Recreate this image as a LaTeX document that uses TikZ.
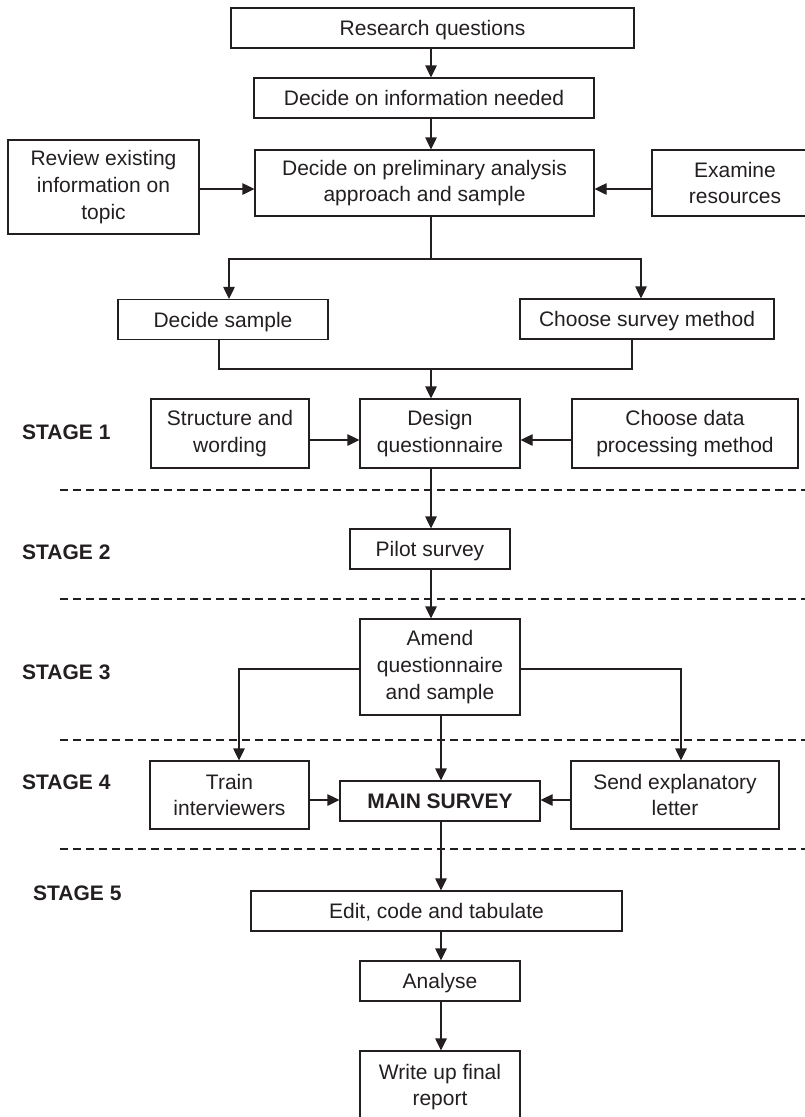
\documentclass[tikz,border=0pt]{standalone}
\usepackage{fontspec}
\setmainfont{Liberation Sans}
\usetikzlibrary{arrows.meta}
\definecolor{ink}{RGB}{35,31,32}
\tikzset{
  box/.style={draw=ink, line width=1.2pt, rectangle, inner sep=0pt, align=center,
              text=ink, font=\fontsize{21}{26.7}\selectfont},
  oneline/.style={text height=15pt, text depth=0pt},
  arr/.style={draw=ink, line width=1.2pt, -{Triangle[length=12pt,width=11.5pt]}},
  link/.style={draw=ink, line width=1.2pt},
  stagesep/.style={draw=ink, line width=1.1pt, dash pattern=on 8pt off 5pt},
  stagelabel/.style={anchor=west, inner sep=0pt, text=ink,
                     font=\fontsize{21}{26.7}\selectfont\bfseries}
}
\begin{document}
\begin{tikzpicture}[x=1pt, y=-1pt]
\useasboundingbox (0,0) rectangle (805,1117);

% ---- boxes ----
\node[box, oneline, minimum width=403, minimum height=40] (rq)      at (432.5,28)   {Research questions};
\node[box, oneline, minimum width=340, minimum height=40] (info)    at (424,98)     {Decide on information needed};
\node[box, minimum width=191, minimum height=94] (review)  at (103.5,187)  {Review existing\\information on\\topic};
\node[box, minimum width=339, minimum height=66] (prelim)  at (424.5,183)  {Decide on preliminary analysis\\approach and sample};
\node[box, minimum width=166, minimum height=66] (examine) at (735,183)    {Examine\\resources};
\node[box, oneline, minimum width=210, minimum height=40] (dsample) at (223,319.5)  {Decide sample};
\node[box, oneline, minimum width=254, minimum height=40] (csurvey) at (647,319)    {Choose survey method};
\node[box, minimum width=158, minimum height=69] (struct)  at (230,433.5)  {Structure and\\wording};
\node[box, minimum width=160, minimum height=69] (design)  at (440,433.5)  {Design\\questionnaire};
\node[box, minimum width=226, minimum height=69] (cdata)   at (685,433.5)  {Choose data\\processing method};
\node[box, oneline, minimum width=160, minimum height=40] (pilot)   at (430,549)    {Pilot survey};
\node[box, minimum width=160, minimum height=96] (amend)   at (440,667)    {Amend\\questionnaire\\and sample};
\node[box, minimum width=159, minimum height=68] (train)   at (229.5,795)  {Train\\interviewers};
\node[box, oneline, minimum width=200, minimum height=40, font=\fontsize{21}{26.7}\selectfont\bfseries] (main) at (440,801) {MAIN SURVEY};
\node[box, minimum width=208, minimum height=68] (send)    at (675,795)    {Send explanatory\\letter};
\node[box, oneline, minimum width=371, minimum height=40] (edit)    at (436.5,911)  {Edit, code and tabulate};
\node[box, oneline, minimum width=160, minimum height=40] (analyse) at (440,981)    {Analyse};
\node[box, minimum width=160, minimum height=72] (write)   at (440,1087)   {Write up final\\report};

% ---- stage labels ----
\node[stagelabel] (s1) at (22,432) {STAGE 1};
\node[stagelabel] (s2) at (22,552) {STAGE 2};
\node[stagelabel] (s3) at (22,672) {STAGE 3};
\node[stagelabel] (s4) at (22,782) {STAGE 4};
\node[stagelabel] (s5) at (33,893) {STAGE 5};

% ---- stage separators ----
\draw[stagesep] (60,490) -- (805,490);
\draw[stagesep] (60,599) -- (805,599);
\draw[stagesep] (60,740) -- (805,740);
\draw[stagesep] (60,849) -- (805,849);

% ---- flow columns and junctions ----
\coordinate (colA)   at (431,0);
\coordinate (colB)   at (441,0);
\coordinate (split)  at (431,259);
\coordinate (splitL) at (229,259);
\coordinate (splitR) at (641,259);
\coordinate (merge)  at (431,369);
\coordinate (mergeL) at (219,369);
\coordinate (mergeR) at (632,369);
\coordinate (forkL)  at (239,669);
\coordinate (forkR)  at (681,669);
\coordinate (rowA)   at (0,189);
\coordinate (rowB)   at (0,440);
\coordinate (rowC)   at (0,800);

% ---- connectors ----
\draw[arr] (rq.south -| colA) -- (info.north -| colA);
\draw[arr] (info.south -| colA) -- (prelim.north -| colA);
\draw[arr] (review.east |- rowA) -- (prelim.west |- rowA);
\draw[arr] (examine.west |- rowA) -- (prelim.east |- rowA);

\draw[link] (prelim.south -| split) -- (split);
\draw[arr] (split) -- (splitL) -- (dsample.north -| splitL);
\draw[arr] (split) -- (splitR) -- (csurvey.north -| splitR);

\draw[link] (dsample.south -| mergeL) -- (mergeL) -- (mergeR) -- (csurvey.south -| mergeR);
\draw[arr] (merge) -- (design.north -| merge);

\draw[arr] (struct.east |- rowB) -- (design.west |- rowB);
\draw[arr] (cdata.west |- rowB) -- (design.east |- rowB);

\draw[arr] (design.south -| colA) -- (pilot.north -| colA);
\draw[arr] (pilot.south -| colA) -- (amend.north -| colA);

\draw[arr] (amend.west |- forkL) -- (forkL) -- (train.north -| forkL);
\draw[arr] (amend.east |- forkR) -- (forkR) -- (send.north -| forkR);
\draw[arr] (amend.south -| colB) -- (main.north -| colB);

\draw[arr] (train.east |- rowC) -- (main.west |- rowC);
\draw[arr] (send.west |- rowC) -- (main.east |- rowC);

\draw[arr] (main.south -| colB) -- (edit.north -| colB);
\draw[arr] (edit.south -| colB) -- (analyse.north -| colB);
\draw[arr] (analyse.south -| colB) -- (write.north -| colB);
\end{tikzpicture}
\end{document}
